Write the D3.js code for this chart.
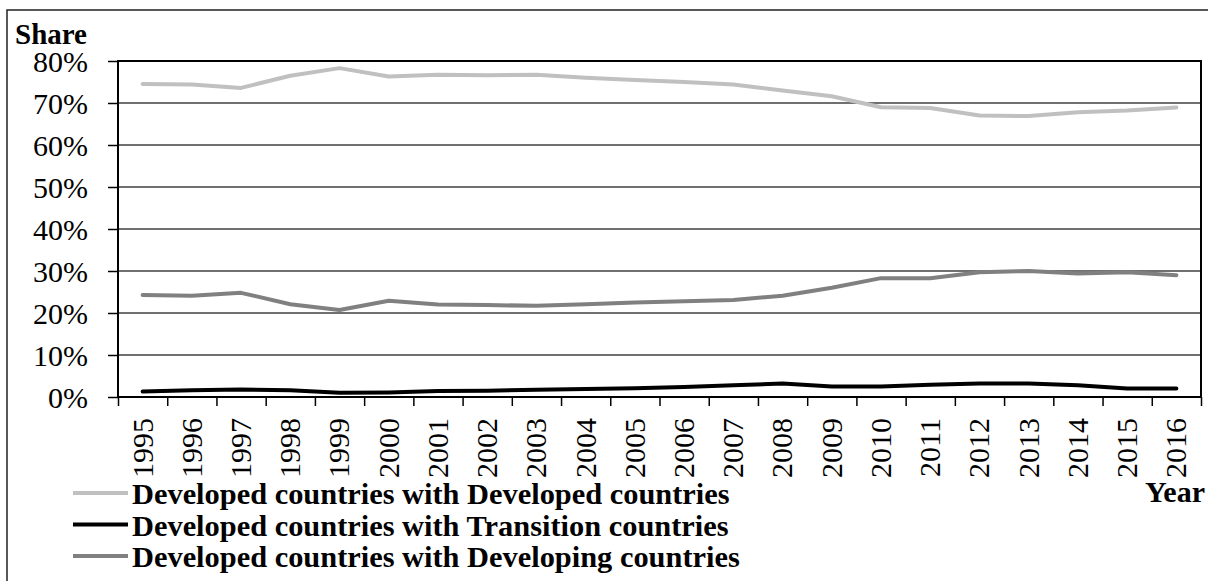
<!DOCTYPE html>
<meta charset="utf-8">
<style>
body { margin: 0; background: #fff; }
.axis path { display: none; }
.axis line { stroke: #000; stroke-width: 1.5px; }
.grid line { stroke: #404040; stroke-width: 1.5px; }
.series { fill: none; stroke-width: 4px; stroke-linejoin: round; stroke-linecap: round; }
</style>
<body>
<svg id="chart" width="1208" height="581"></svg>
<script src="https://d3js.org/d3.v7.min.js"></script>
<script>
// data (shares, %)
var years = ["1995","1996","1997","1998","1999","2000","2001","2002","2003","2004","2005",
             "2006","2007","2008","2009","2010","2011","2012","2013","2014","2015","2016"];
var devDeveloped = [74.5, 74.4, 73.6, 76.5, 78.3, 76.3, 76.7, 76.6, 76.7, 76.0, 75.5,
                    75.0, 74.4, 73.0, 71.6, 69.0, 68.8, 67.0, 66.9, 67.8, 68.2, 68.9];
var devTransition = [1.3, 1.6, 1.8, 1.6, 1.0, 1.1, 1.4, 1.5, 1.7, 1.9, 2.1,
                     2.4, 2.8, 3.2, 2.5, 2.5, 2.9, 3.2, 3.2, 2.8, 2.0, 2.0];
var devDeveloping = [24.3, 24.1, 24.8, 22.1, 20.7, 22.9, 22.0, 21.9, 21.7, 22.1, 22.5,
                     22.8, 23.1, 24.1, 26.0, 28.3, 28.3, 29.7, 30.0, 29.4, 29.7, 29.0];
var yTicks = [0, 10, 20, 30, 40, 50, 60, 70, 80];
var seriesNames = ["Developed countries with Developed countries",
                   "Developed countries with Transition countries",
                   "Developed countries with Developing countries"];
var seriesColors = ["#c0c0c0", "#000000", "#808080"];

var FONT = "'Liberation Serif', 'Times New Roman', Times, serif";
var margin = {top: 61, left: 118};
var plotW = 1201 - margin.left, plotH = 397 - margin.top;

var svg = d3.select("#chart");

// outer frame
svg.append("rect")
  .attr("x", 7).attr("y", 10)
  .attr("width", 1210).attr("height", 580)
  .attr("fill", "none").attr("stroke", "#222").attr("stroke-width", 1.5);

var g = svg.append("g").attr("transform", "translate(" + margin.left + "," + margin.top + ")");

var x = d3.scaleBand().domain(years).range([0, plotW]);
var xIdx = d3.scaleLinear().domain([0, years.length]).range([0, plotW]);
var y = d3.scaleLinear().domain([0, 80]).range([plotH, 0]);

// gridlines
g.append("g").attr("class", "grid")
  .selectAll("line").data(yTicks.slice(1, -1)).enter().append("line")
  .attr("x1", 0).attr("x2", plotW)
  .attr("y1", function(d) { return y(d); }).attr("y2", function(d) { return y(d); });

// y axis
var yAxis = g.append("g").attr("class", "axis")
  .call(d3.axisLeft(y).tickValues(yTicks).tickSize(10).tickPadding(20)
          .tickFormat(function(d) { return d + "%"; }));
yAxis.attr("font-family", null).attr("font-size", null);
yAxis.selectAll("text").style("font-family", FONT).style("font-size", "30px")
  .style("fill", "#000").attr("dy", "0.34em");

// x axis tick marks at category edges
g.append("g").attr("class", "axis")
  .attr("transform", "translate(0," + plotH + ")")
  .call(d3.axisBottom(xIdx).tickValues(d3.range(years.length + 1)).tickSize(9).tickFormat(""));

// x labels, rotated
var xAxis = g.append("g").attr("class", "axis")
  .attr("transform", "translate(0," + plotH + ")")
  .call(d3.axisBottom(x).tickSize(0).tickPadding(0));
xAxis.attr("font-family", null).attr("font-size", null);
xAxis.selectAll("line").remove();
xAxis.selectAll("text")
  .style("font-family", FONT).style("font-size", "30px").style("fill", "#000")
  .attr("text-anchor", "end")
  .attr("transform", "rotate(-90)")
  .attr("x", -21).attr("y", 0).attr("dy", "0.33em");

// plot border
g.append("rect").attr("width", plotW).attr("height", plotH)
  .attr("fill", "none").attr("stroke", "#000").attr("stroke-width", 2);

var line = d3.line()
  .x(function(d, i) { return x(years[i]) + x.bandwidth() / 2; })
  .y(function(d) { return y(d); });

var allSeries = [devDeveloped, devTransition, devDeveloping];
allSeries.forEach(function(s, k) {
  g.append("path").attr("class", "series")
    .attr("d", line(s))
    .attr("stroke", seriesColors[k]);
});

// axis titles
svg.append("text").attr("x", 15).attr("y", 44)
  .style("font-family", FONT).style("font-size", "29px").style("font-weight", "bold").text("Share");
svg.append("text").attr("x", 1205).attr("y", 502).attr("text-anchor", "end")
  .style("font-family", FONT).style("font-size", "30px").style("font-weight", "bold").text("Year");

// legend
var legend = svg.append("g").attr("transform", "translate(73,504)");
seriesNames.forEach(function(name, k) {
  var row = legend.append("g").attr("transform", "translate(0," + (k * 31.5) + ")");
  row.append("line").attr("x1", 0).attr("x2", 55).attr("y1", -11).attr("y2", -11)
    .attr("stroke", seriesColors[k]).attr("stroke-width", 4);
  row.append("text").attr("x", 59).attr("y", 0)
    .style("font-family", FONT).style("font-size", "30.4px").style("font-weight", "bold").text(name);
});
</script>
</body>
